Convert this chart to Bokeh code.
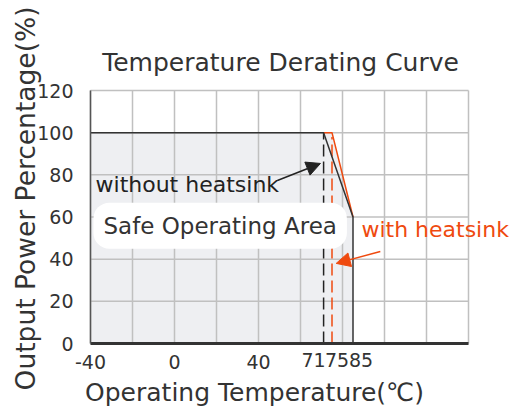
import math
from bokeh.plotting import figure
from bokeh.models import FixedTicker, Label, Arrow, NormalHead, Range1d
from bokeh.embed import file_html
from bokeh.resources import INLINE

# ---- data ----
x_ticks = [-40, 0, 40]
x_tick_labels = ["-40", "0", "40"]
x_special = [71, 75, 85]
x_special_labels = ["71", "75", "85"]
y_ticks = [0, 20, 40, 60, 80, 100, 120]
grid_x = [-40, -20, 0, 20, 40, 60, 80, 100, 120, 140]
grid_y = [0, 20, 40, 60, 80, 100, 120]

curve_nohs_x = [-40, 71, 85, 85]
curve_nohs_y = [100, 100, 60, 0]
curve_hs_x = [71, 75, 85]
curve_hs_y = [100, 100, 60]
area_x = [-40, -40, 75, 85, 85]
area_y = [0, 100, 100, 60, 0]
dash_nohs_x = [71, 71]
dash_nohs_y = [0, 100]
dash_hs_x = [75, 75]
dash_hs_y = [0, 98]

FONT = "DejaVu Sans"
TXT = "#333333"
RED = "#ef4a0f"

W, H = 509, 407
X0, X1, Y0, Y1 = grid_x[0], grid_x[-1], grid_y[0], grid_y[-1]
# frame of the chart area in canvas pixels
FL, FR, FT, FB = 90, 468, 90, 343
sx = (FR - FL) / (X1 - X0)
sy = (FB - FT) / (Y1 - Y0)
xr = Range1d(X0 - FL / sx, X1 + (W - FR) / sx)
yr = Range1d(Y0 - (H - FB) / sy, Y1 + FT / sy)

p = figure(width=W, height=H, output_backend="svg", toolbar_location=None,
           x_range=xr, y_range=yr,
           min_border_left=0, min_border_top=0, min_border_right=0,
           min_border_bottom=0)
p.outline_line_color = None
p.background_fill_color = "white"
p.border_fill_color = "white"
p.xgrid.visible = False
p.ygrid.visible = False

# area
p.patch(area_x, area_y, fill_color="#eeeff2", line_color=None)

# grid lines limited to the chart area
p.segment(x0=grid_x, y0=[Y0] * len(grid_x), x1=grid_x, y1=[Y1] * len(grid_x),
          line_color="#c0c0c0", line_width=1.5)
p.segment(x0=[X0] * len(grid_y), y0=grid_y, x1=[X1] * len(grid_y), y1=grid_y,
          line_color="#c0c0c0", line_width=1.5)

# axes at fixed locations
p.xaxis.fixed_location = Y0
p.yaxis.fixed_location = X0
p.xaxis.bounds = (X0, X1)
p.yaxis.bounds = (Y0, Y1)
p.xaxis.ticker = FixedTicker(ticks=x_ticks)
p.xaxis.major_label_overrides = {t: s for t, s in zip(x_ticks, x_tick_labels)}
p.yaxis.ticker = FixedTicker(ticks=y_ticks)
for ax in (p.xaxis, p.yaxis):
    ax.major_tick_line_color = None
    ax.minor_tick_line_color = None
    ax.major_tick_out = 0
    ax.major_tick_in = 0
    ax.major_label_text_font = FONT
    ax.major_label_text_font_size = "19px"
    ax.major_label_text_color = TXT
p.xaxis.axis_line_color = "#333333"
p.xaxis.axis_line_width = 3
p.yaxis.axis_line_color = "#555555"
p.yaxis.axis_line_width = 1.5
p.yaxis.major_label_standoff = 17
p.xaxis.major_label_standoff = 11

# dashed markers
p.line(dash_nohs_x, dash_nohs_y, line_color="#222222", line_width=1.5, line_dash="12 5")
p.line(dash_hs_x, dash_hs_y, line_color=RED, line_width=1.5, line_dash="12 5")

# curves
p.line(curve_hs_x, curve_hs_y, line_color=RED, line_width=1.5)
p.line(curve_nohs_x, curve_nohs_y, line_color="#333333", line_width=1.5)

# crowded tick labels of the original
offsets = [-10, 5, 8]
for xv, lab, off in zip(x_special, x_special_labels, offsets):
    p.add_layout(Label(x=xv, y=-4.7, text=lab, text_align="center", text_baseline="top",
                       x_offset=off, text_font=FONT,
                       text_font_size="19px", text_color=TXT))

# title and axis labels
p.add_layout(Label(x=50.5, y=133.2, text="Temperature Derating Curve", text_align="center",
                   text_baseline="middle", text_font=FONT, text_font_size="25px",
                   text_color=TXT))
p.add_layout(Label(x=38.1, y=-23.2, text="Operating Temperature(℃)", text_align="center",
                   text_baseline="middle", text_font=FONT, text_font_size="25px",
                   text_color=TXT))
p.add_layout(Label(x=-71.1, y=68.8, text="Output Power Percentage(%)", text_align="center",
                   text_baseline="middle", angle=math.pi / 2, text_font=FONT,
                   text_font_size="26.5px", text_color=TXT))

# annotations
p.add_layout(Label(x=-37.6, y=75.3, text="without heatsink", text_baseline="middle",
                   text_font=FONT, text_font_size="22px", text_color="#222222"))
p.add_layout(Label(x=-38.6, y=55.9, text="Safe Operating Area", text_baseline="middle",
                   text_font=FONT, text_font_size="23px", text_color=TXT,
                   background_fill_color="white", padding=10, border_radius=16))
p.add_layout(Label(x=89.0, y=53.9, text="with heatsink", text_baseline="middle",
                   text_font=FONT, text_font_size="22px", text_color=RED))

p.add_layout(Arrow(x_start=49, y_start=77.3, x_end=69.5, y_end=85.4,
                   line_color="#222222", line_width=1.5,
                   end=NormalHead(size=14, fill_color="#222222", line_color="#222222")))
p.add_layout(Arrow(x_start=98, y_start=43.6, x_end=77, y_end=38,
                   line_color=RED, line_width=1.5,
                   end=NormalHead(size=14, fill_color=RED, line_color=RED)))

open("out.html", "w").write(file_html(p, INLINE))
